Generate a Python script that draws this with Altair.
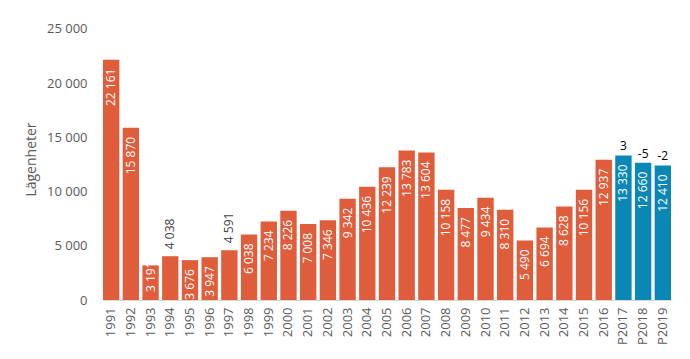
import altair as alt
import pandas as pd

years = ["1991","1992","1993","1994","1995","1996","1997","1998","1999","2000",
         "2001","2002","2003","2004","2005","2006","2007","2008","2009","2010",
         "2011","2012","2013","2014","2015","2016","P2017","P2018","P2019"]
values = [22161,15870,3191,4038,3676,3947,4591,6038,7234,8226,
          7008,7346,9342,10436,12239,13783,13604,10158,8477,9434,
          8310,5490,6694,8628,10156,12937,13330,12660,12410]
kind = ["Utfall"] * 26 + ["Prognos"] * 3
label_pos = ["in"] * 29
label_pos[2] = "base"
label_pos[3] = "out"
label_pos[6] = "out"
change_labels = [""] * 26 + ["3", "-5", "-2"]

df = pd.DataFrame({"year": years, "value": values, "kind": kind,
                   "pos": label_pos, "change": change_labels})
df["label"] = df["value"].map(lambda v: f"{v:,}".replace(",", " "))
df["zero"] = 0

FONT = "Open Sans"

base = alt.Chart(df).encode(
    x=alt.X("year:N", sort=years, scale=alt.Scale(paddingInner=0.17, paddingOuter=0.05),
            axis=alt.Axis(title=None, labelAngle=-90, labelFontSize=13, labelColor="#595959",
                          labelFont=FONT, ticks=False, domainColor="#D9D9D9", labelPadding=7,
                          labelBaseline="middle", labelAlign="right")),
)

bars = base.mark_bar().encode(
    y=alt.Y("value:Q", scale=alt.Scale(domain=[0, 25000]),
            axis=alt.Axis(title="Lägenheter", values=[0, 5000, 10000, 15000, 20000, 25000],
                          labelExpr="replace(format(datum.value, ','), ',', ' ')",
                          grid=False, domain=False, ticks=False, labelFontSize=13,
                          labelColor="#595959", labelFont=FONT, titleFont=FONT,
                          titleFontSize=14, titleFontWeight="normal", titleColor="#595959",
                          labelPadding=15, titlePadding=8)),
    color=alt.Color("kind:N", scale=alt.Scale(domain=["Utfall", "Prognos"],
                                              range=["#DF5D3B", "#0B87B5"]), legend=None),
)

inside = base.transform_filter("datum.pos == 'in'").mark_text(
    angle=270, align="right", baseline="middle", dx=-9, color="white",
    fontSize=12, font=FONT
).encode(y="value:Q", text="label:N")

at_base = base.transform_filter("datum.pos == 'base'").mark_text(
    angle=270, align="left", baseline="middle", dx=8, color="white",
    fontSize=12, font=FONT
).encode(y="zero:Q", text="label:N")

outside = base.transform_filter("datum.pos == 'out'").mark_text(
    angle=270, align="left", baseline="middle", dx=7, color="#404040",
    fontSize=12, font=FONT
).encode(y="value:Q", text="label:N")

changes = base.transform_filter("datum.change != ''").mark_text(
    align="center", baseline="bottom", dy=-2, color="black",
    fontSize=12, font=FONT
).encode(y="value:Q", text="change:N")

chart = alt.layer(bars, inside, at_base, outside, changes).properties(
    width=570, height=282,
    autosize=alt.AutoSizeParams(type="none"),
    padding={"left": 94, "top": 10, "right": 10, "bottom": 55},
).configure_view(stroke=None)

chart.save("out.html", embed_options={"renderer": "svg", "actions": False})
